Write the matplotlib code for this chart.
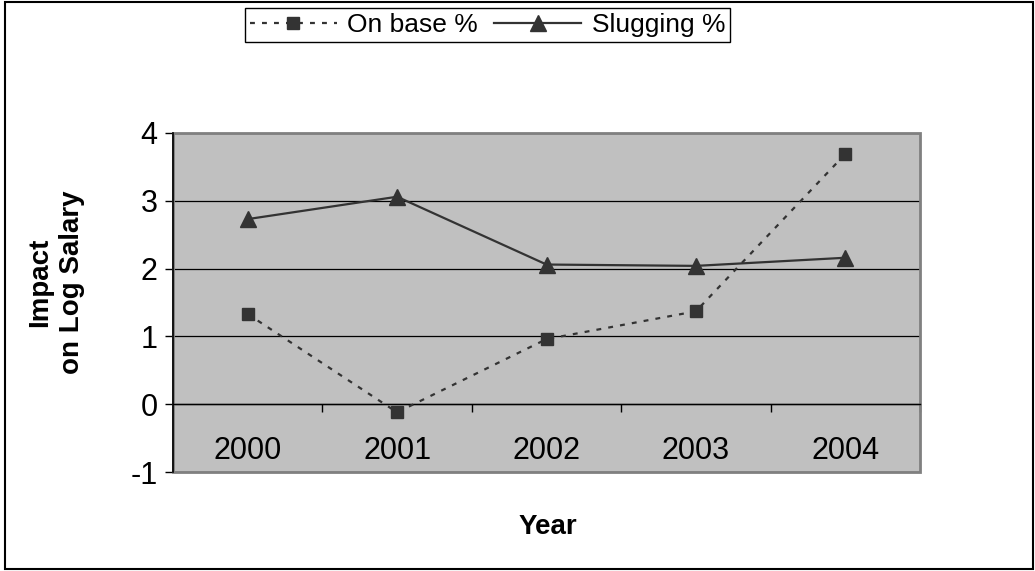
import matplotlib.pyplot as plt
from matplotlib.patches import Rectangle
from matplotlib.lines import Line2D

plt.rcParams['font.family'] = ['Liberation Sans', 'DejaVu Sans']
plt.rcParams['axes.unicode_minus'] = False

years = ['2000', '2001', '2002', '2003', '2004']
on_base = [1.33, -0.12, 0.96, 1.37, 3.69]
slugging = [2.73, 3.06, 2.06, 2.04, 2.16]

fig = plt.figure(figsize=(10.35, 5.71), dpi=100)
ax = fig.add_axes([173 / 1035, 1 - 472 / 571, (920 - 173) / 1035, (472 - 133) / 571])
ax.set_facecolor('#C0C0C0')

x = list(range(len(years)))
ax.plot(x, on_base, color='#333333', lw=1.6, ls=(0, (2.2, 3.2)),
        marker='s', ms=9, mfc='#333333', mec='#333333', zorder=3)
ax.plot(x, slugging, color='#333333', lw=1.6, ls='-',
        marker='^', ms=12, mfc='#333333', mec='#333333', zorder=3)

ax.set_xlim(-0.5, len(years) - 0.5)
ax.set_ylim(-1, 4)

# y axis
ax.set_yticks([-1, 0, 1, 2, 3, 4])
ax.tick_params(axis='y', direction='out', length=6, width=1, labelsize=22, pad=5, color='black')
ax.yaxis.grid(True, color='black', lw=0.9)
ax.set_axisbelow(True)

# x axis crossing at zero, ticks between categories
ax.spines['bottom'].set_position(('data', 0))
ax.spines['bottom'].set_color('black')
ax.spines['bottom'].set_linewidth(1)
ax.set_xticks([i + 0.5 for i in x])
ax.set_xticklabels([])
ax.tick_params(axis='x', which='major', direction='out', length=6, width=1, color='black')
ax.set_xticks(x, minor=True)
ax.set_xticklabels(years, minor=True, fontsize=22)
ax.tick_params(axis='x', which='minor', length=0, pad=23)

for s in ['top', 'right']:
    ax.spines[s].set_visible(False)
ax.spines['left'].set_color('black')
ax.spines['left'].set_linewidth(1.2)
ax.add_patch(Rectangle((0, 0), 1, 1, transform=ax.transAxes, fill=False,
                       edgecolor='#808080', lw=2, clip_on=False, zorder=1))

# labels
fig.text(56 / 1035, 1 - 282 / 571, 'Impact\non Log Salary', rotation=90,
         ha='center', va='center', multialignment='center',
         fontsize=20, fontweight='bold', linespacing=1.3)
fig.text(548 / 1035, 1 - 527 / 571, 'Year', ha='center', va='center',
         fontsize=20, fontweight='bold')

# legend
handles = [
    Line2D([], [], color='#333333', lw=1.6, ls=(0, (2.2, 3.2)), marker='s', ms=9),
    Line2D([], [], color='#333333', lw=1.6, ls='-', marker='^', ms=12),
]
leg = fig.legend(handles, ['On base %', 'Slugging %'], ncol=2, loc='center',
                 bbox_to_anchor=((243 + 732) / 2 / 1035, 1 - 25 / 571),
                 bbox_transform=fig.transFigure, fontsize=19, frameon=True,
                 fancybox=False, edgecolor='black', framealpha=1,
                 handlelength=3.3, handletextpad=0.4, columnspacing=0.6,
                 borderpad=0.2, borderaxespad=0)
leg.get_frame().set_linewidth(1)

# outer chart border
fig.patches.append(Rectangle((5 / 1035, 2 / 571), 1028 / 1035, 567 / 571,
                             transform=fig.transFigure, fill=False,
                             edgecolor='black', lw=1.5))

fig.savefig('out.png', dpi=100)
